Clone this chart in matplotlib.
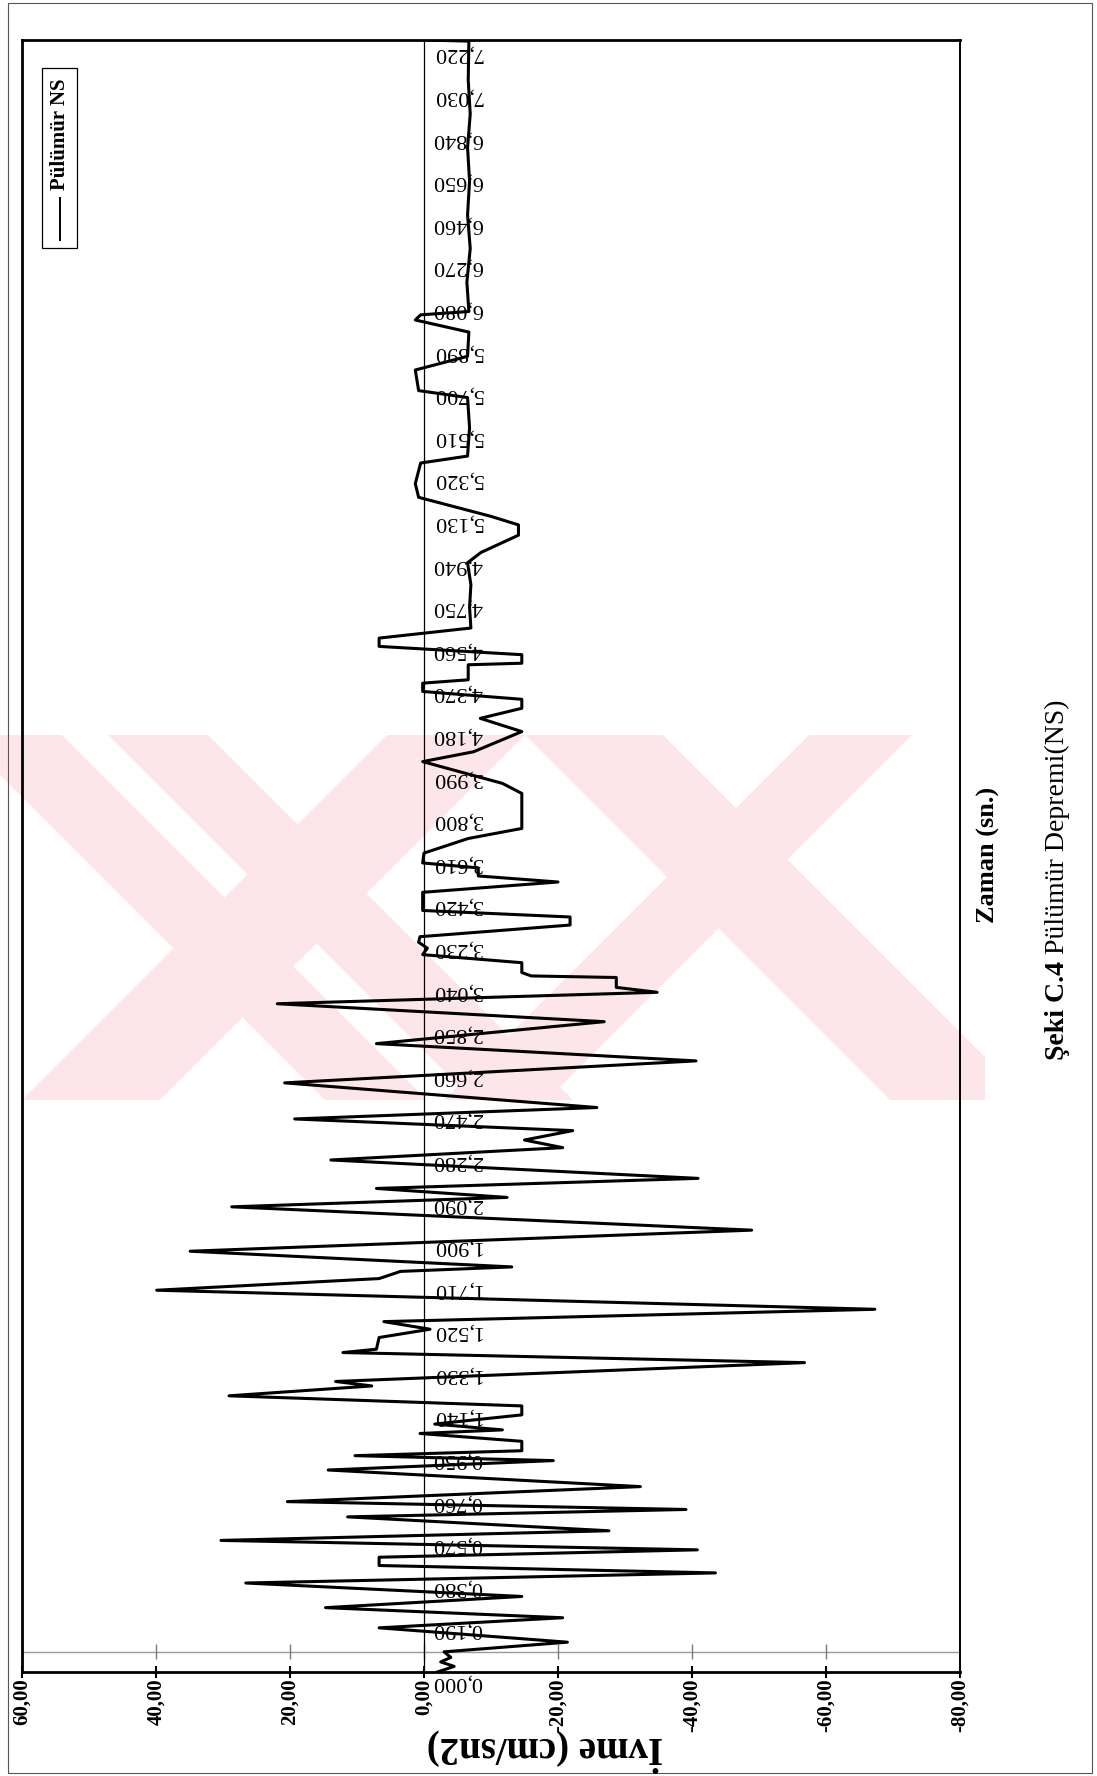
import matplotlib
matplotlib.use("Agg")
import matplotlib.pyplot as plt
from matplotlib.patches import Rectangle, Polygon
from matplotlib.lines import Line2D

plt.rcParams['font.family'] = ['Liberation Serif', 'DejaVu Serif']

# Pülümür earthquake, NS component: time (s) and acceleration (cm/s2)
zaman = [
    0.000, 0.025, 0.045, 0.065, 0.090, 0.133, 0.197, 0.242, 0.287, 0.337,
    0.397, 0.442, 0.475, 0.512, 0.545, 0.587, 0.630, 0.692, 0.725, 0.760,
    0.827, 0.901, 0.943, 0.965, 0.987, 1.029, 1.064, 1.080, 1.106, 1.147,
    1.187, 1.232, 1.276, 1.296, 1.380, 1.425, 1.440, 1.492, 1.529, 1.563,
    1.618, 1.703, 1.755, 1.787, 1.807, 1.877, 1.971, 2.075, 2.117, 2.157,
    2.202, 2.284, 2.339, 2.373, 2.415, 2.467, 2.518, 2.628, 2.726, 2.803,
    2.901, 2.981, 3.032, 3.054, 3.098, 3.105, 3.120, 3.164, 3.200, 3.229,
    3.255, 3.280, 3.332, 3.368, 3.397, 3.478, 3.524, 3.551, 3.587, 3.609,
    3.653, 3.718, 3.763, 3.919, 3.964, 4.061, 4.105, 4.195, 4.254, 4.299,
    4.339, 4.374, 4.411, 4.426, 4.493, 4.500, 4.538, 4.575, 4.612, 4.657,
    4.750, 4.850, 4.948, 4.994, 5.071, 5.117, 5.155, 5.240, 5.301, 5.393,
    5.424, 5.550, 5.685, 5.716, 5.808, 5.869, 5.977, 6.031, 6.054, 6.069,
    6.200, 6.350, 6.500, 6.650, 6.800, 6.950, 7.100, 7.275, 7.280,
]
ivme = [
    -2.0, -4.5, -2.5, -4.0, -3.0, -21.4, 6.7, -20.7, 14.7, -14.6,
    26.6, -43.5, 6.7, 6.7, -40.8, 30.3, -27.6, 11.4, -39.1, 20.4,
    -32.3, 14.3, -19.3, 10.3, -14.6, -14.6, 0.6, -11.7, -1.6, -14.6,
    -14.6, 29.1, 7.8, 13.2, -56.8, 12.1, 7.1, 6.7, -0.9, 6.0,
    -67.3, 39.9, 6.7, 3.5, -13.1, 34.9, -48.9, 28.7, -12.4, 7.1,
    -40.9, 13.9, -20.7, -15.0, -22.2, 19.3, -25.8, 20.8, -40.6, 7.1,
    -26.9, 21.9, -34.8, -28.7, -28.7, -16.0, -14.6, -14.6, 0.2, -0.5,
    0.8, 0.6, -21.8, -21.8, 0.2, 0.2, -20.0, -8.1, -8.1, 0.2,
    0.0, -6.6, -14.6, -14.6, -11.7, 0.2, -7.4, -14.6, -8.4, -14.6,
    -14.6, 0.2, 0.2, -6.6, -6.6, -14.6, -14.6, 6.7, 6.7, -7.0,
    -6.8, -7.0, -6.5, -8.5, -14.1, -14.1, -10.0, 0.8, 1.3, 0.5,
    -6.5, -6.8, -6.5, 0.8, 1.3, -6.5, -6.7, 1.3, 0.5, -6.7,
    -6.4, -6.9, -6.5, -6.8, -6.5, -6.9, -6.6, -6.7, 0.0,
]

ivme_ticks = [60, 40, 20, 0, -20, -40, -60, -80]
ivme_labels = ["60,00", "40,00", "20,00", "0,00", "-20,00", "-40,00", "-60,00", "-80,00"]

zaman_ticks = [
    0.00, 0.19, 0.38, 0.57, 0.76, 0.95, 1.14, 1.33, 1.52, 1.71,
    1.90, 2.09, 2.28, 2.47, 2.66, 2.85, 3.04, 3.23, 3.42, 3.61,
    3.80, 3.99, 4.18, 4.37, 4.56, 4.75, 4.94, 5.13, 5.32, 5.51,
    5.70, 5.89, 6.08, 6.27, 6.46, 6.65, 6.84, 7.03, 7.22,
]
zaman_labels = [
    "0,000", "0,190", "0,380", "0,570", "0,760", "0,950", "1,140", "1,330", "1,520", "1,710",
    "1,900", "2,090", "2,280", "2,470", "2,660", "2,850", "3,040", "3,230", "3,420", "3,610",
    "3,800", "3,990", "4,180", "4,370", "4,560", "4,750", "4,940", "5,130", "5,320", "5,510",
    "5,700", "5,890", "6,080", "6,270", "6,460", "6,650", "6,840", "7,030", "7,220",
]

W, H = 1097, 1776
fig = plt.figure(figsize=(W / 100, H / 100), dpi=100)
fig.patch.set_facecolor("white")


def fpt(x, y):
    """Page pixel position (origin top-left) -> figure fraction."""
    return (x / W, 1 - y / H)


# pale page watermark: crossing diagonal bands
WM_TOP, WM_BOT, WM_RIGHT = 735, 1100, 985
wm_color = "#fde6ea"
span = WM_BOT - WM_TOP
down_right = [(-40, 62), (108, 208), (525, 663)]
down_left = [(387, 525), (809, 912)]
clip = Rectangle(fpt(0, WM_BOT), WM_RIGHT / W, span / H, transform=fig.transFigure)
for a, b in down_right + down_left:
    sh = span if (a, b) in down_right else -span
    pts = [fpt(a, WM_TOP), fpt(b, WM_TOP), fpt(b + sh, WM_BOT), fpt(a + sh, WM_BOT)]
    p = Polygon(pts, closed=True, transform=fig.transFigure, facecolor=wm_color,
                edgecolor="none", zorder=-1)
    p.set_clip_path(clip)
    fig.patches.append(p)

# page frame
fig.patches.append(Rectangle((8 / W, 3 / H), 1084 / W, 1770 / H, transform=fig.transFigure,
                             fill=False, edgecolor="#555555", lw=0.8))

ax = fig.add_axes([22 / W, 104 / H, 938 / W, 1632 / H])
ax.set_facecolor("none")
ax.set_xlim(60, -80)
ax.set_ylim(0, 7.28)

# acceleration trace
ax.plot(ivme, zaman, color="black", lw=2.2, solid_joinstyle="round", zorder=3)

# time axis at zero acceleration
ax.axvline(0, color="black", lw=0.9, zorder=2)

# light reference line with minor marks near the base
ax.axhline(0.09, color="#9a9a9a", lw=1.0, zorder=1)
ax.vlines(ivme_ticks, 0.06, 0.125, color="#777777", lw=1.0, zorder=1)

for sp in ax.spines.values():
    sp.set_linewidth(2.0)
ax.spines["right"].set_linewidth(1.4)

ax.set_xticks(ivme_ticks)
ax.set_xticklabels(ivme_labels, rotation=90, fontsize=15, fontweight="bold")
ax.tick_params(axis="x", direction="inout", length=9, width=1.5, pad=0)
ax.set_yticks([])

# time labels along the zero line (upside down)
for tv, lab in zip(zaman_ticks[1:], zaman_labels[1:]):
    ax.text(-5.0, tv, lab, rotation=180, ha="center", va="center", fontsize=16, zorder=4)
ax.text(-5.0, 0.0, zaman_labels[0], rotation=180, ha="center", va="top", fontsize=16, zorder=4)

# axis titles
fig.text(545 / W, 1 - 1750 / H, "İvme (cm/sn2)", rotation=180, ha="center", va="center",
         fontsize=28, fontweight="bold")
fig.text(988 / W, 1 - 855 / H, "Zaman (sn.)", rotation=90, ha="center", va="center",
         fontsize=19, fontweight="bold")
# caption: bold figure number followed by regular title
cap_bold = fig.text(1057 / W, 1 - 1060 / H, "Şeki C.4", rotation=90, ha="center", va="bottom",
                    fontsize=20, fontweight="bold")
fig.canvas.draw()
bb = cap_bold.get_window_extent()
fig.text(1057 / W, (bb.y1 + 7) / H, "Pülümür Depremi(NS)", rotation=90, ha="center",
         va="bottom", fontsize=20)

# legend box
ax.add_patch(Rectangle((42 / W, 1 - 248 / H), 35 / W, 180 / H, transform=fig.transFigure,
                       fill=False, edgecolor="black", lw=0.9, zorder=5))
ax.add_line(Line2D([60 / W, 60 / W], [1 - 240 / H, 1 - 198 / H], transform=fig.transFigure,
                   color="black", lw=1.4, zorder=5))
fig.text(60 / W, 1 - 190 / H, "Pülümür NS", rotation=90, ha="center", va="bottom",
         fontsize=15, fontweight="bold")

fig.savefig("out.png", dpi=100, facecolor="white")
